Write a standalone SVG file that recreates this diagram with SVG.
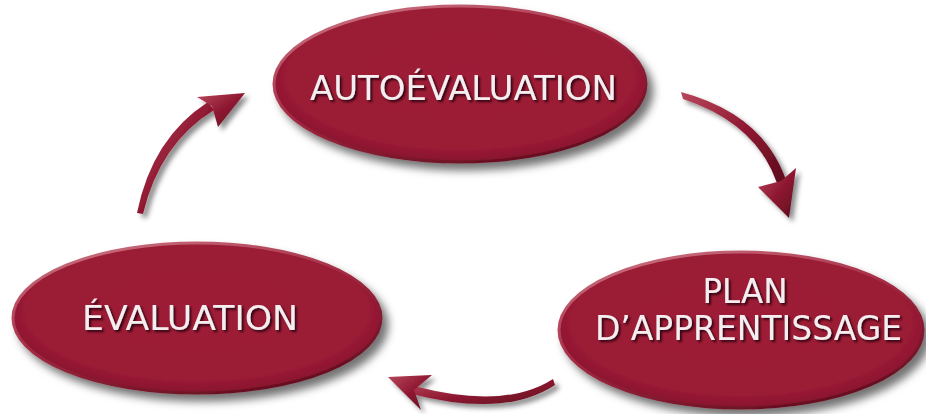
<svg xmlns="http://www.w3.org/2000/svg" width="926" height="414" viewBox="0 0 926 414">
<defs>
<radialGradient id="gFill" cx="0.5" cy="0.45" r="0.55">
<stop offset="0" stop-color="#9e1c37"/>
<stop offset="0.85" stop-color="#9a1a35"/>
<stop offset="1" stop-color="#86152d"/>
</radialGradient>
<linearGradient id="gRim" x1="0.2" y1="0" x2="0.8" y2="1">
<stop offset="0" stop-color="#c9707f"/>
<stop offset="0.45" stop-color="#a42a43"/>
<stop offset="1" stop-color="#5e0b1c"/>
</linearGradient>
<linearGradient id="gArrow" x1="0" y1="0" x2="1" y2="1">
<stop offset="0" stop-color="#b8475c"/>
<stop offset="0.5" stop-color="#8f1932"/>
<stop offset="1" stop-color="#5c0c1d"/>
</linearGradient>
<filter id="shadow" x="-20%" y="-20%" width="150%" height="150%">
<feDropShadow dx="6" dy="7" stdDeviation="4" flood-color="#000" flood-opacity="0.55"/>
</filter>
<filter id="ashadow" x="-30%" y="-30%" width="170%" height="170%">
<feDropShadow dx="4" dy="4" stdDeviation="2.5" flood-color="#000" flood-opacity="0.45"/>
</filter>
<filter id="tshadow" x="-10%" y="-30%" width="130%" height="170%">
<feDropShadow dx="2" dy="2" stdDeviation="1.2" flood-color="#2a0008" flood-opacity="0.9"/>
</filter>
</defs>
<style>
.node ellipse{fill:url(#gFill);stroke:url(#gRim);stroke-width:3;filter:url(#shadow)}
.lbl{font-family:"DejaVu Sans","Verdana",sans-serif;font-size:33px;fill:#f4eef0;text-anchor:middle;filter:url(#tshadow)}
.arrow{fill:url(#gArrow);filter:url(#ashadow)}
</style>
<rect width="926" height="414" fill="#ffffff"/>
<g id="connectors">
<g id="arrow-eval-auto" class="arrow">
<path d="M137,213 Q152,138 208,102 L214,110 Q160,143 143,214 Z"/>
<path d="M245,93 L197,97 L212,106 L218,127 Z"/>
</g>
<g id="arrow-auto-plan" class="arrow">
<path d="M681,92 Q763,114 786,180 L777,183 Q756,123 683,99 Z"/>
<path d="M789,218 L758,187 L781,181 L796,168 Z"/>
</g>
<g id="arrow-plan-eval" class="arrow">
<path d="M553,379 Q505,410 414,386 L412,394 Q505,418 555,385 Z"/>
<path d="M388,377 L432,375 L414,390 L421,410 Z"/>
</g>
</g>
<g id="node-autoevaluation" class="node">
<ellipse cx="460" cy="84" rx="186" ry="78"/>
<text class="lbl" x="463.5" y="100" textLength="307" lengthAdjust="spacingAndGlyphs">AUTOÉVALUATION</text>
</g>
<g id="node-evaluation" class="node">
<ellipse cx="197" cy="318" rx="184" ry="75"/>
<text class="lbl" x="190" y="330" textLength="216" lengthAdjust="spacingAndGlyphs">ÉVALUATION</text>
</g>
<g id="node-plan" class="node">
<ellipse cx="741" cy="330" rx="182" ry="78"/>
<text class="lbl" x="745" y="303" textLength="85" lengthAdjust="spacingAndGlyphs">PLAN</text>
<text class="lbl" x="748.5" y="340" textLength="307" lengthAdjust="spacingAndGlyphs">D’APPRENTISSAGE</text>
</g>
</svg>
